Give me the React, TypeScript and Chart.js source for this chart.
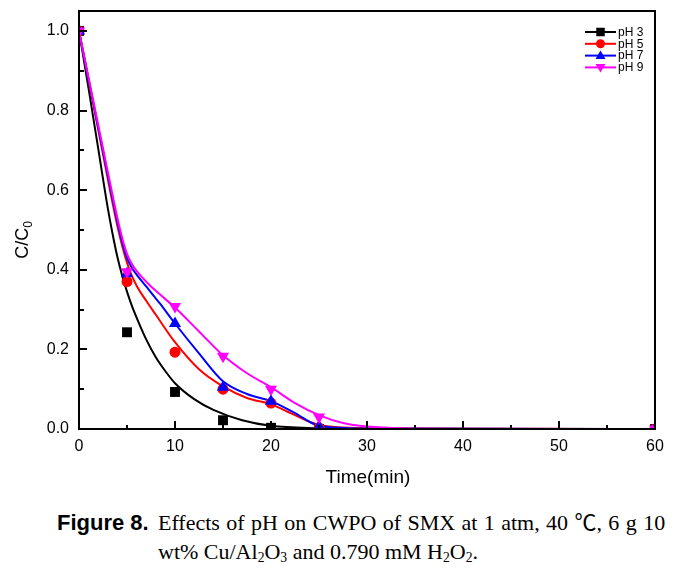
import React, { useEffect, useRef } from 'react';
import { Chart, registerables } from 'chart.js';
Chart.register(...registerables);

// measured samples
const sampleTime = [0, 5, 10, 15, 20, 25, 60];
const pH3 = [1.0, 0.243, 0.093, 0.022, 0.003, 0.0, 0.0];
const pH5 = [1.0, 0.37, 0.193, 0.1, 0.065, 0.003, 0.0];
const pH7 = [1.0, 0.39, 0.265, 0.105, 0.07, 0.006, 0.0];
const pH9 = [1.0, 0.395, 0.308, 0.183, 0.1, 0.03, 0.0];

// fitted curves
const fit3Time = [0, 1, 2, 3, 3.5, 4, 4.5, 5, 5.5, 6, 7, 8, 9, 10, 12, 14, 17, 20, 25, 30, 60];
const fit3 = [1.0, 0.855, 0.705, 0.555, 0.49, 0.432, 0.385, 0.345, 0.31, 0.28, 0.225, 0.18, 0.145, 0.115, 0.075, 0.048, 0.022, 0.008, 0.002, 0, 0];
const fit5Time = [0, 1, 2, 3, 3.5, 4, 4.5, 5, 5.5, 6, 7, 8, 10, 12.5, 15, 17.5, 20, 22.5, 25, 30, 60];
const fit5 = [1.0, 0.876, 0.752, 0.628, 0.567, 0.51, 0.46, 0.418, 0.385, 0.36, 0.322, 0.287, 0.218, 0.15, 0.107, 0.078, 0.062, 0.035, 0.01, 0.002, 0];
const fit7Time = [0, 1, 2, 3, 4, 4.5, 5, 5.5, 6, 7, 8.4, 10, 12.5, 15, 17.5, 20, 22.5, 25, 30, 60];
const fit7 = [1.0, 0.879, 0.758, 0.638, 0.52, 0.47, 0.43, 0.405, 0.388, 0.358, 0.316, 0.265, 0.19, 0.12, 0.088, 0.07, 0.04, 0.008, 0.001, 0];
const fit9Time = [0, 1, 2, 3, 4, 4.5, 5, 5.5, 6, 7, 8, 10, 12.5, 15, 17.5, 20, 22.5, 25, 27.5, 30, 35, 40, 60];
const fit9 = [1.0, 0.882, 0.764, 0.646, 0.53, 0.48, 0.44, 0.415, 0.397, 0.37, 0.347, 0.305, 0.245, 0.185, 0.14, 0.105, 0.065, 0.035, 0.015, 0.006, 0.001, 0, 0];

const seriesLabels = ['pH 3', 'pH 5', 'pH 7', 'pH 9'];
const seriesColors = ['#000000', '#ff0000', '#0000ff', '#ff00ff'];
const xTicks = [0, 10, 20, 30, 40, 50, 60];
const xMinorTicks = [5, 15, 25, 35, 45, 55];
const yTicks = [0, 0.2, 0.4, 0.6, 0.8, 1.0];
const yMinorTicks = [0.1, 0.3, 0.5, 0.7, 0.9];
const xTitle = 'Time(min)';
const yTitleMain = 'C/C';
const yTitleSub = '0';

const AXIS_FONT = '"Liberation Sans", Arial, sans-serif';

type Marker = { style: string; r: number; rot: number };
const markers: Marker[] = [
  { style: 'rect', r: 7, rot: 0 },
  { style: 'circle', r: 5.5, rot: 0 },
  { style: 'triangle', r: 7, rot: 0 },
  { style: 'triangle', r: 7, rot: 180 },
];

function drawMarker(ctx: CanvasRenderingContext2D, kind: number, x: number, y: number, size: number) {
  ctx.beginPath();
  if (kind === 0) {
    ctx.rect(x - size / 2, y - size / 2, size, size);
  } else if (kind === 1) {
    ctx.arc(x, y, size / 2, 0, Math.PI * 2);
  } else if (kind === 2) {
    const h = size * 0.87;
    ctx.moveTo(x, y - h * 0.6);
    ctx.lineTo(x + size / 2, y + h * 0.4);
    ctx.lineTo(x - size / 2, y + h * 0.4);
    ctx.closePath();
  } else {
    const h = size * 0.87;
    ctx.moveTo(x, y + h * 0.6);
    ctx.lineTo(x + size / 2, y - h * 0.4);
    ctx.lineTo(x - size / 2, y - h * 0.4);
    ctx.closePath();
  }
  ctx.fill();
}

const framePlugin = {
  id: 'frame',
  afterDraw(chart: any) {
    const { ctx, chartArea: a, scales } = chart;
    const xs = scales.x;
    const ys = scales.y;
    ctx.save();
    ctx.strokeStyle = '#000';
    ctx.lineWidth = 2;
    ctx.strokeRect(a.left, a.top, a.right - a.left, a.bottom - a.top);
    ctx.beginPath();
    xTicks.forEach((v) => {
      const x = Math.round(xs.getPixelForValue(v));
      ctx.moveTo(x, a.bottom);
      ctx.lineTo(x, a.bottom - 8);
    });
    xMinorTicks.forEach((v) => {
      const x = Math.round(xs.getPixelForValue(v));
      ctx.moveTo(x, a.bottom);
      ctx.lineTo(x, a.bottom - 4);
    });
    yTicks.forEach((v) => {
      const y = Math.round(ys.getPixelForValue(v));
      ctx.moveTo(a.left, y);
      ctx.lineTo(a.left + 8, y);
    });
    yMinorTicks.forEach((v) => {
      const y = Math.round(ys.getPixelForValue(v));
      ctx.moveTo(a.left, y);
      ctx.lineTo(a.left + 5, y);
    });
    ctx.stroke();

    // tick labels
    ctx.fillStyle = '#000';
    ctx.font = `16px ${AXIS_FONT}`;
    ctx.textAlign = 'center';
    ctx.textBaseline = 'middle';
    xTicks.forEach((v) => {
      ctx.fillText(String(v), xs.getPixelForValue(v), a.bottom + 18);
    });
    ctx.textAlign = 'right';
    yTicks.forEach((v) => {
      ctx.fillText(v.toFixed(1), a.left - 10, ys.getPixelForValue(v));
    });

    // x title
    ctx.textAlign = 'center';
    ctx.font = `19px ${AXIS_FONT}`;
    ctx.fillText(xTitle, 368, 478);

    // y title
    ctx.save();
    ctx.translate(22, 240);
    ctx.rotate(-Math.PI / 2);
    ctx.font = `18px ${AXIS_FONT}`;
    const wMain = ctx.measureText(yTitleMain).width;
    ctx.font = `12px ${AXIS_FONT}`;
    const wSub = ctx.measureText(yTitleSub).width;
    const start = -(wMain + wSub) / 2;
    ctx.textAlign = 'left';
    ctx.textBaseline = 'alphabetic';
    ctx.font = `18px ${AXIS_FONT}`;
    ctx.fillText(yTitleMain, start, 6);
    ctx.font = `12px ${AXIS_FONT}`;
    ctx.fillText(yTitleSub, start + wMain, 10);
    ctx.restore();

    // legend
    const lx0 = 585;
    const lx1 = 616;
    seriesLabels.forEach((label, i) => {
      const y = 32 + i * 11.8;
      ctx.strokeStyle = seriesColors[i];
      ctx.fillStyle = seriesColors[i];
      ctx.lineWidth = 2;
      ctx.beginPath();
      ctx.moveTo(lx0, y);
      ctx.lineTo(lx1, y);
      ctx.stroke();
      drawMarker(ctx, i, (lx0 + lx1) / 2, y, i === 1 ? 9 : i === 0 ? 8.5 : 10);
      ctx.fillStyle = '#000';
      ctx.font = `12px ${AXIS_FONT}`;
      ctx.textAlign = 'left';
      ctx.textBaseline = 'middle';
      ctx.fillText(label, lx1 + 2, y + 0.5);
    });
    ctx.restore();
  },
};

export default function App() {
  const ref = useRef<HTMLCanvasElement | null>(null);
  useEffect(() => {
    if (!ref.current) return;
    const fitTimes = [fit3Time, fit5Time, fit7Time, fit9Time];
    const fits = [fit3, fit5, fit7, fit9];
    const samples = [pH3, pH5, pH7, pH9];
    const datasets: any[] = [];
    seriesLabels.forEach((label, i) => {
      datasets.push({
        label: label + ' fit',
        data: fitTimes[i].map((t, k) => ({ x: t, y: fits[i][k] })),
        showLine: true,
        borderColor: seriesColors[i],
        backgroundColor: seriesColors[i],
        borderWidth: 2,
        pointRadius: 0,
        cubicInterpolationMode: 'monotone',
        order: 10 - i,
      });
    });
    seriesLabels.forEach((label, i) => {
      datasets.push({
        label,
        data: sampleTime.map((t, k) => ({ x: t, y: samples[i][k] })),
        showLine: false,
        borderColor: seriesColors[i],
        backgroundColor: seriesColors[i],
        pointStyle: markers[i].style,
        pointRadius: markers[i].r,
        pointRotation: markers[i].rot,
        pointBorderWidth: 0,
        clip: 0,
        order: 4 - i,
      });
    });
    const chart = new Chart(ref.current, {
      type: 'scatter',
      data: { datasets },
      options: {
        animation: false,
        responsive: false,
        events: [],
        layout: { padding: { top: 11, right: 30, left: 0, bottom: 0 } },
        plugins: { legend: { display: false }, tooltip: { enabled: false } },
        scales: {
          x: {
            type: 'linear',
            min: 0,
            max: 60,
            ticks: { display: false },
            grid: { display: false },
            border: { display: false },
            afterFit: (s: any) => {
              s.height = 66;
            },
          },
          y: {
            type: 'linear',
            min: 0,
            max: 1.05,
            ticks: { display: false },
            grid: { display: false },
            border: { display: false },
            afterFit: (s: any) => {
              s.width = 79;
            },
          },
        },
      } as any,
      plugins: [framePlugin],
    });
    return () => chart.destroy();
  }, []);

  const serif = '"Liberation Serif", "Times New Roman", "Noto Sans CJK SC", serif';
  const sub: React.CSSProperties = { fontSize: '0.62em', verticalAlign: '-0.25em', lineHeight: 0 };
  return (
    <div style={{ position: 'absolute', left: 0, top: 0, width: 685, height: 573, background: '#fff' }}>
      <canvas ref={ref} width={685} height={495} style={{ display: 'block', width: 685, height: 495 }} />
      <div style={{ position: 'absolute', left: 57, top: 509, fontSize: 22, lineHeight: '28.5px', whiteSpace: 'nowrap', fontFamily: '"Liberation Sans", Arial, sans-serif', fontWeight: 'bold', color: '#000' }}>
        Figure 8.
      </div>
      <div style={{ position: 'absolute', left: 158, top: 509, fontSize: 22, lineHeight: '28.5px', whiteSpace: 'nowrap', fontFamily: serif, wordSpacing: '0.9px', color: '#000' }}>
        Effects of pH on CWPO of SMX at 1 atm, 40 ℃, 6 g 10
      </div>
      <div style={{ position: 'absolute', left: 158, top: 537.5, fontSize: 22, lineHeight: '28.5px', whiteSpace: 'nowrap', fontFamily: serif, color: '#000' }}>
        wt% Cu/Al<span style={sub}>2</span>O<span style={sub}>3</span> and 0.790 mM H<span style={sub}>2</span>O<span style={sub}>2</span>.
      </div>
    </div>
  );
}
